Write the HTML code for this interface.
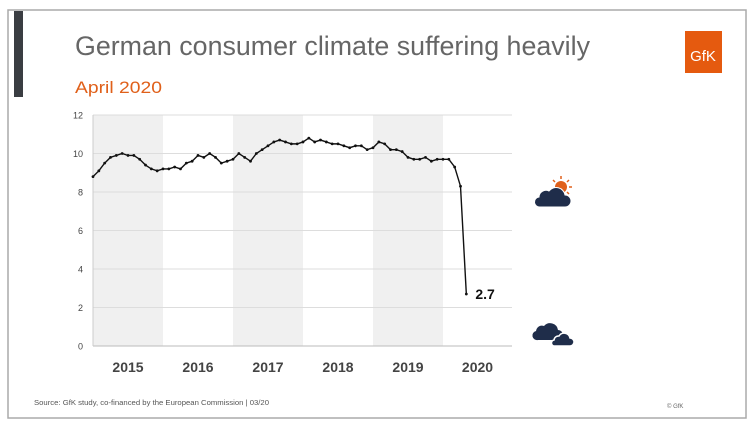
<!DOCTYPE html>
<html><head><meta charset="utf-8"><style>
body{margin:0;width:753px;height:431px;background:#fff;overflow:hidden;font-family:"Liberation Sans",sans-serif}
</style></head><body>
<svg width="753" height="431">
<rect x="8" y="10" width="738" height="408" fill="#fff" stroke="#aaa" stroke-width="1.5"/>
<rect x="14" y="11" width="9" height="86" fill="#3a3d42"/>
<text x="75" y="55" font-size="27" fill="#666" textLength="515" lengthAdjust="spacingAndGlyphs">German consumer climate suffering heavily</text>
<text x="75" y="93" font-size="17" fill="#e0601a" textLength="87" lengthAdjust="spacingAndGlyphs">April 2020</text>
<g><rect x="685" y="31" width="37" height="42" fill="#e55a0f"/><text x="703" y="61" font-size="15" fill="#fff" text-anchor="middle">GfK</text></g>
<g id="chart"></g>
<g>
<circle cx="561" cy="187" r="6" fill="#e0601a"/>
<g stroke="#e0601a" stroke-width="1.5"><line x1="561" y1="176" x2="561" y2="179"/><line x1="569" y1="180" x2="567" y2="182"/><line x1="572" y1="187" x2="569" y2="187"/><line x1="553" y1="180" x2="555" y2="182"/><line x1="569" y1="194" x2="567" y2="192"/></g>
<path d="M540 207 h25 a6 6 0 0 0 0-12 a9 9 0 0 0-16-4 a7 7 0 0 0-10 6 a5 5 0 0 0 1 10z" fill="#1f2d4a" stroke="#fff" stroke-width="1"/>
</g>
<g>
<path d="M538 340 h20 a5 5 0 0 0 0-10 a8 8 0 0 0-14-4 a6 6 0 0 0-8 5 a4.5 4.5 0 0 0 2 9z" fill="#1f2d4a"/>
<path d="M555 346 h15 a4 4 0 0 0 0-8 a6 6 0 0 0-11-2 a4.5 4.5 0 0 0-5 4 a3 3 0 0 0 1 6z" fill="#1f2d4a" stroke="#fff" stroke-width="1.5"/>
</g>
<text x="34" y="405" font-size="7" fill="#555" textLength="235" lengthAdjust="spacingAndGlyphs">Source: GfK study, co-financed  by the European Commission | 03/20</text>
<text x="667" y="408" font-size="6" fill="#666">© GfK</text>
</svg>
<script>
const years=["2015","2016","2017","2018","2019","2020"];
const yTicks=[0,2,4,6,8,10,12];
const values=[8.8,9.1,9.5,9.8,9.9,10.0,9.9,9.9,9.7,9.4,9.2,9.1,
9.2,9.2,9.3,9.2,9.5,9.6,9.9,9.8,10.0,9.8,9.5,9.6,
9.7,10.0,9.8,9.6,10.0,10.2,10.4,10.6,10.7,10.6,10.5,10.5,
10.6,10.8,10.6,10.7,10.6,10.5,10.5,10.4,10.3,10.4,10.4,10.2,
10.3,10.6,10.5,10.2,10.2,10.1,9.8,9.7,9.7,9.8,9.6,9.7,
9.7,9.7,9.3,8.3,2.7];
const lastLabel=["2.7"];
const NS="http://www.w3.org/2000/svg";
const g=document.getElementById('chart');
const x0=93,x1=512,yw=70,step=yw/12;
function X(i){return x0+i*step;}
function Y(v){return 346-v*(231/12);}
function mk(t,a,p){const e=document.createElementNS(NS,t);for(const k in a)e.setAttribute(k,a[k]);(p||g).appendChild(e);return e;}
years.forEach((yr,k)=>{
 const xs=X(k*12), xe=Math.min(X((k+1)*12),x1);
 if(k%2===0){const r=mk('rect',{x:xs,y:Y(12),width:xe-xs,height:Y(0)-Y(12),fill:'#f0f0f0'});
 
 }
 const t=mk('text',{x:(xs+xe)/2,y:372,'font-size':14,'font-weight':'bold',fill:'#444','text-anchor':'middle'});t.textContent=yr;
 
 
});
yTicks.forEach(v=>{
 const l=mk('line',{x1:x0,x2:x1,y1:Y(v),y2:Y(v),stroke:v===0?'#bbb':'#ddd','stroke-width':1});
 
 
 const t=mk('text',{x:83,y:Y(v)+3.5,'font-size':9,fill:'#444','text-anchor':'end'});t.textContent=v;
 
 
});
const ax=mk('line',{x1:x0,x2:x0,y1:Y(12),y2:Y(0),stroke:'#ccc'});


const pl=mk('polyline',{points:values.map((v,i)=>X(i)+','+Y(v)).join(' '),fill:'none',stroke:'#111','stroke-width':1.4});


values.forEach((v,i)=>{const c=mk('circle',{cx:X(i),cy:Y(v),r:1.4,fill:'#111'});
 
 });
const n=values.length-1;
const lb=mk('text',{x:X(n)+9,y:Y(values[n])+5,'font-size':14,'font-weight':'bold',fill:'#111'});lb.textContent=lastLabel[0];


</script>
</body></html>
